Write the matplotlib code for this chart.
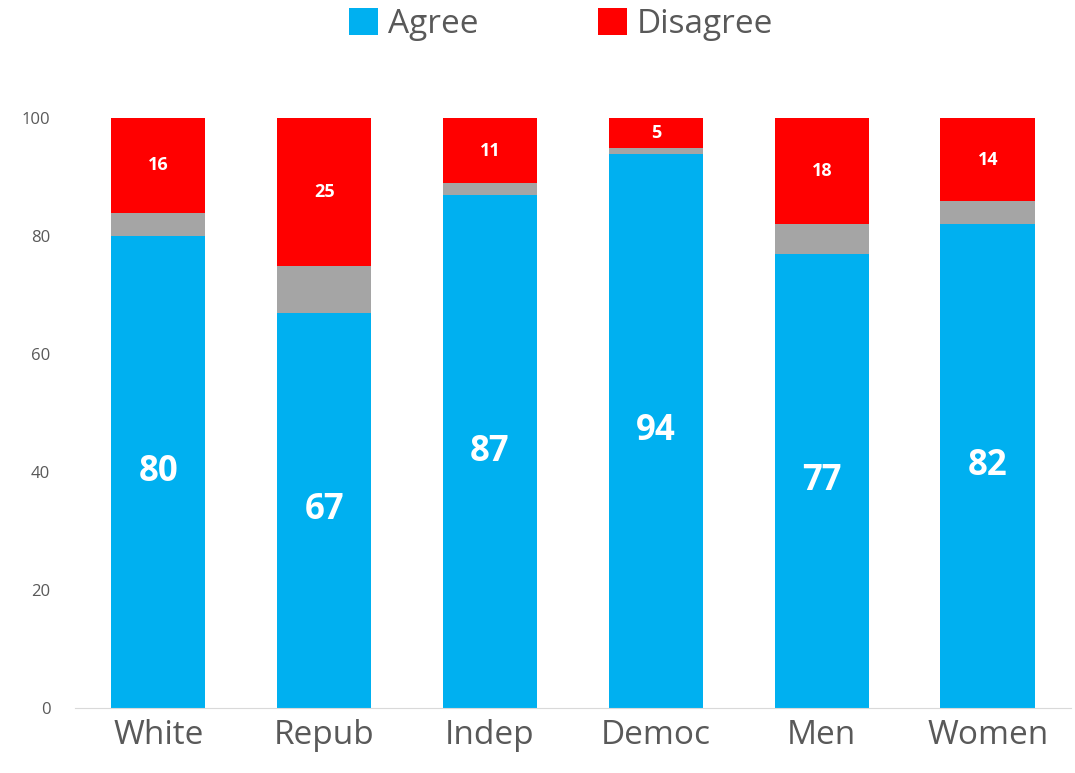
import matplotlib.pyplot as plt
import numpy as np

# ---------------------------------------------| Data
groups = ['White', 'Repub', 'Indep', 'Democ', 'Men', 'Women']
agree = [80, 67, 87, 94, 77, 82]
disagree = [16, 25, 11, 5, 18, 14]
other = [100 - a - d for a, d in zip(agree, disagree)]

blue = '#00B0F0'
red = '#FF0000'
grey = '#A5A5A5'
txt = '#595959'

plt.rcParams['font.family'] = ['Open Sans', 'DejaVu Sans']

fig = plt.figure(figsize=(10.75, 7.73), dpi=100)
ax = fig.add_axes([0.07, 0.084, 0.926, 0.763])

x = np.arange(len(groups))
w = 0.57
ax.bar(x, agree, w, color=blue, label='Agree')
ax.bar(x, other, w, bottom=agree, color=grey)
bot2 = [a + o for a, o in zip(agree, other)]
ax.bar(x, disagree, w, bottom=bot2, color=red, label='Disagree')

for i in range(len(groups)):
    ax.text(x[i], agree[i] / 2, str(agree[i]), ha='center', va='center',
            color='white', fontsize=25, fontweight='bold')
    ax.text(x[i], bot2[i] + disagree[i] / 2, str(disagree[i]), ha='center',
            va='center', color='white', fontsize=13, fontweight='bold')

ax.set_xlim(-0.5, 5.5)
ax.set_ylim(0, 100)
ax.set_yticks(range(0, 101, 20))
ax.set_xticks(x)
ax.set_xticklabels(groups)
ax.tick_params(axis='x', length=0, labelsize=24, labelcolor=txt, pad=8)
ax.tick_params(axis='y', length=0, labelsize=12, labelcolor=txt, pad=18)
for s in ['top', 'right', 'left']:
    ax.spines[s].set_visible(False)
ax.spines['bottom'].set_color('#D9D9D9')

fig.legend(loc='center', bbox_to_anchor=(0.522, 0.968), ncol=2, frameon=False,
           fontsize=24, labelcolor=txt, handlelength=0.85, handleheight=0.85,
           handletextpad=0.3, columnspacing=3.6)

plt.savefig('out.png')
